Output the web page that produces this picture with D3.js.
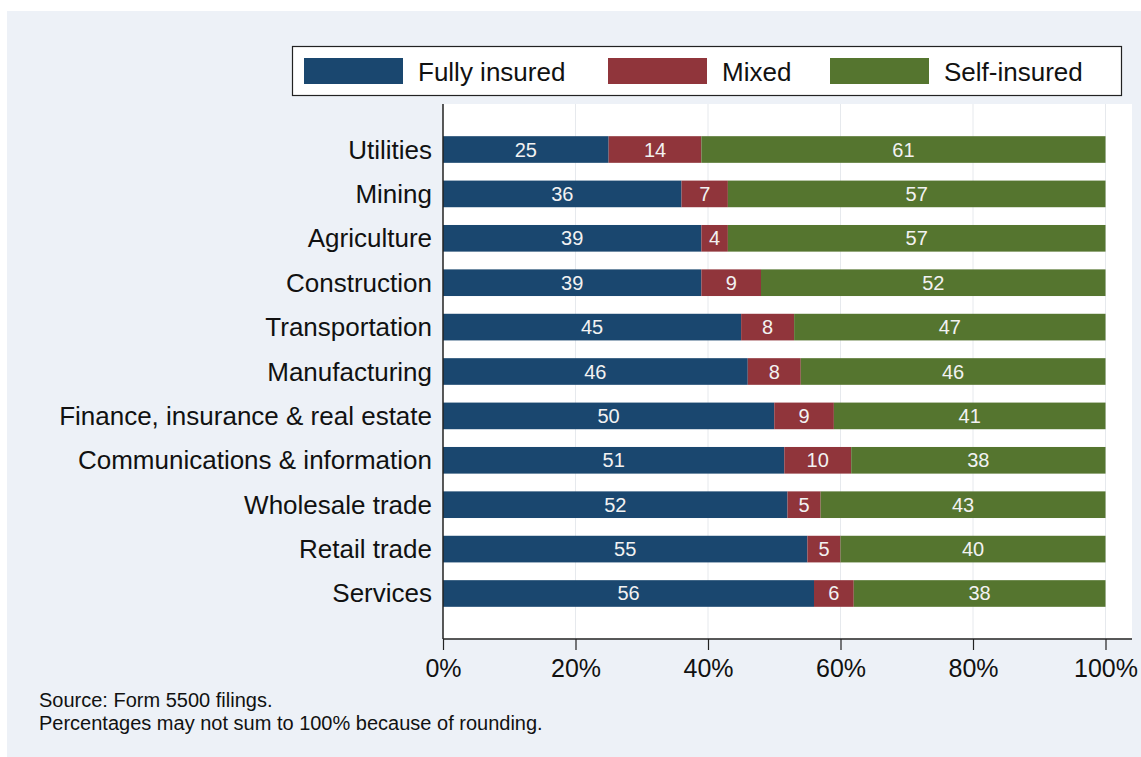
<!DOCTYPE html>
<html>
<head>
<meta charset="utf-8">
<script src="https://cdn.jsdelivr.net/npm/d3@7"></script>
<style>
  html, body { margin: 0; padding: 0; background: #fff; }
  text { font-family: "Liberation Sans", Arial, sans-serif; }
</style>
</head>
<body>
<svg id="chart" width="1141" height="757"></svg>
<script>
// industries, top to bottom
const industries = ["Utilities", "Mining", "Agriculture", "Construction", "Transportation",
  "Manufacturing", "Finance, insurance & real estate", "Communications & information",
  "Wholesale trade", "Retail trade", "Services"];
const fullyInsured = [25, 36, 39, 39, 45, 46, 50, 51, 52, 55, 56];
const mixed        = [14, 7, 4, 9, 8, 8, 9, 10, 5, 5, 6];
const selfInsured  = [61, 57, 57, 52, 47, 46, 41, 38, 43, 40, 38];
const seriesNames = ["Fully insured", "Mixed", "Self-insured"];
const seriesColors = ["#1a476f", "#90353b", "#55752f"];
const xTicks = [0, 0.2, 0.4, 0.6, 0.8, 1];
const notes = ["Source: Form 5500 filings.", "Percentages may not sum to 100% because of rounding."];

const svg = d3.select("#chart");

// background
svg.append("rect").attr("x", 7).attr("y", 11).attr("width", 1134).attr("height", 746)
  .attr("fill", "#edf1f7");

const plot = { left: 443, right: 1132, top: 104, bottom: 639 };
svg.append("rect").attr("x", plot.left).attr("y", plot.top)
  .attr("width", plot.right - plot.left).attr("height", plot.bottom - plot.top)
  .attr("fill", "#fff");

const rows = industries.map((name, i) => ({
  name,
  "Fully insured": fullyInsured[i],
  "Mixed": mixed[i],
  "Self-insured": selfInsured[i]
}));

const stack = d3.stack().keys(seriesNames).offset(d3.stackOffsetExpand);
const layers = stack(rows);

const x = d3.scaleLinear().domain([0, 1]).range([plot.left, 1105.5]);
const y = d3.scaleBand().domain(industries).range([plot.top, plot.bottom])
  .paddingInner(0.4).paddingOuter(0.725);
const color = d3.scaleOrdinal().domain(seriesNames).range(seriesColors);

// gridlines
svg.append("g").selectAll("line").data(xTicks.slice(1)).join("line")
  .attr("x1", d => x(d)).attr("x2", d => x(d))
  .attr("y1", plot.top).attr("y2", plot.bottom)
  .attr("stroke", "#e6e9ed").attr("stroke-width", 1);

// bars
const gLayer = svg.append("g").selectAll("g").data(layers).join("g")
  .attr("fill", d => color(d.key));

gLayer.selectAll("rect").data(d => d).join("rect")
  .attr("x", d => x(d[0]))
  .attr("y", d => y(d.data.name))
  .attr("width", d => x(d[1]) - x(d[0]))
  .attr("height", y.bandwidth());

// bar labels
layers.forEach(layer => {
  svg.append("g").selectAll("text").data(layer).join("text")
    .attr("x", d => (x(d[0]) + x(d[1])) / 2)
    .attr("y", d => y(d.data.name) + y.bandwidth() / 2 + 7)
    .attr("text-anchor", "middle")
    .attr("fill", "#f2f2f2")
    .style("font-size", "20px")
    .text(d => d.data[layer.key]);
});

// category labels
svg.append("g").selectAll("text").data(industries).join("text")
  .attr("x", 432)
  .attr("y", d => y(d) + y.bandwidth() / 2 + 9)
  .attr("text-anchor", "end")
  .attr("fill", "#111")
  .style("font-size", "26px")
  .text(d => d);

// axes
svg.append("line").attr("x1", plot.left).attr("x2", plot.left)
  .attr("y1", plot.top).attr("y2", plot.bottom)
  .attr("stroke", "#222").attr("stroke-width", 1.5);

const xAxis = svg.append("g")
  .attr("transform", `translate(0,${plot.bottom})`)
  .call(d3.axisBottom(x).tickValues(xTicks).tickFormat(d3.format(".0%"))
    .tickSize(11).tickPadding(9));
xAxis.select(".domain").attr("d", `M${plot.left},0H${plot.right}`)
  .attr("stroke", "#222").attr("stroke-width", 1.5);
xAxis.selectAll(".tick line").attr("stroke", "#222").attr("stroke-width", 1.2);
xAxis.selectAll(".tick text").attr("fill", "#111")
  .style("font-size", "25px").style("font-family", "'Liberation Sans', Arial, sans-serif");

// legend
const legend = svg.append("g");
legend.append("rect").attr("x", 292.5).attr("y", 46.5).attr("width", 829).attr("height", 49)
  .attr("fill", "#fff").attr("stroke", "#222").attr("stroke-width", 1.2);
const legendX = [304, 608, 830];
seriesNames.forEach((name, i) => {
  legend.append("rect").attr("x", legendX[i]).attr("y", 58)
    .attr("width", 99).attr("height", 26).attr("fill", color(name));
  legend.append("text").attr("x", legendX[i] + 114).attr("y", 80.5)
    .attr("fill", "#111").style("font-size", "26px").text(name);
});

// notes
svg.append("g").selectAll("text").data(notes).join("text")
  .attr("x", 39).attr("y", (d, i) => 707 + i * 22.5)
  .attr("fill", "#111").style("font-size", "20px")
  .text(d => d);
</script>
</body>
</html>
